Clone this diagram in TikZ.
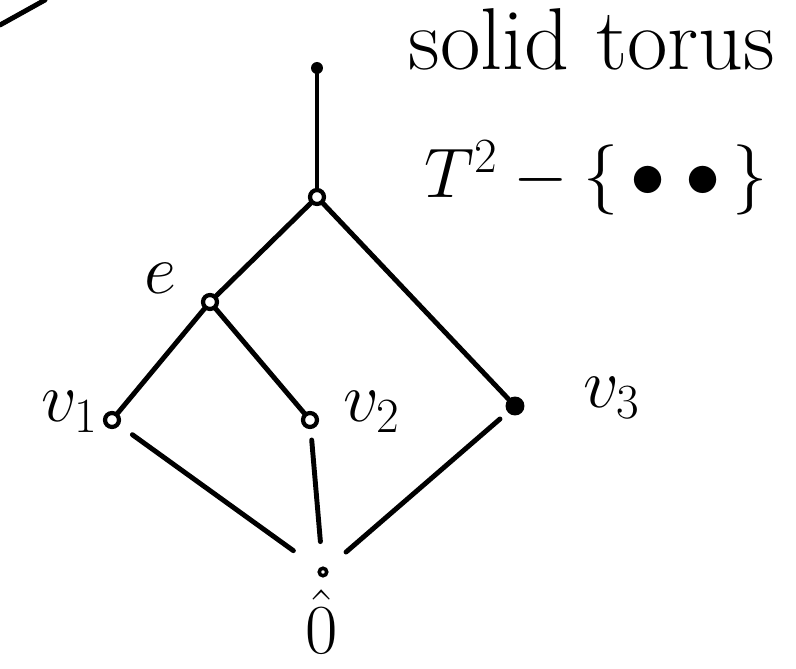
\RequirePackage{fix-cm}
\documentclass[tikz,border=0pt]{standalone}
\usepackage{amsmath,amssymb}
\usepackage{tikz}
\usetikzlibrary{calc}

\begin{document}
\begin{tikzpicture}[x=0.02cm,y=-0.02cm,
  line/.style={line width=2.8pt,line cap=round},
  opendot/.style={circle,draw,line width=2.4pt,inner sep=0pt,minimum size=0.28cm},
  smalldot/.style={circle,draw,line width=2pt,inner sep=0pt,minimum size=0.15cm},
  fulldot/.style={circle,fill=black,inner sep=0pt,minimum size=0.24cm},
  bigdot/.style={circle,fill=black,inner sep=0pt,minimum size=0.38cm},
  cover/.style={line},
  gap/.style={line,shorten <=0.32cm,shorten >=0.62cm},
  lbl/.style={font=\fontsize{40}{48}\selectfont}
]
\useasboundingbox (0,0) rectangle (796,669);
% stroke cut off at the corner
\draw[line] (0,25) -- (45,0);

%--- title texts ---
\node[font=\fontsize{50}{60}\selectfont,anchor=base] (title) at (592,70) {solid torus};
\node[font=\fontsize{40}{48}\selectfont] (space) at (596,178)
  {$T^{2}-\{\,\bullet\;\bullet\,\}$};

%--- poset elements ---
\node[fulldot]  (top) at (317,68)  {};
\node[opendot]  (m)   at (317,197) {};
\node[opendot]  (e)   at (210,302) {};
\node[opendot]  (v1)  at (112,420) {};
\node[opendot]  (v2)  at (310,420) {};
\node[bigdot]   (v3)  at (515,406) {};
\node[smalldot] (bot) at (323,572) {};

%--- labels ---
\node[lbl] (le)  at (160,278) {$e$};
\node[lbl] (lv1) at (70,412)  {$v_1$};
\node[lbl] (lv2) at (372,412) {$v_2$};
\node[lbl] (lv3) at (612,398) {$v_3$};
\node[lbl] (lb)  at (322,622) {$\hat{0}$};

%--- cover relations ---
\draw[cover] (top) -- (m);
\draw[cover] (m) -- (e);
\draw[cover] (m) -- (v3);
\draw[cover] (e) -- (v1);
\draw[cover] (e) -- (v2);
% lower edges stop short of the nodes
\draw[gap] (v1) -- (bot);
\draw[gap,shorten <=0.22cm,shorten >=0.5cm] (v2) -- (bot);
\draw[gap,shorten <=0.2cm,shorten >=0.5cm] (v3) -- (bot);
\end{tikzpicture}
\end{document}
